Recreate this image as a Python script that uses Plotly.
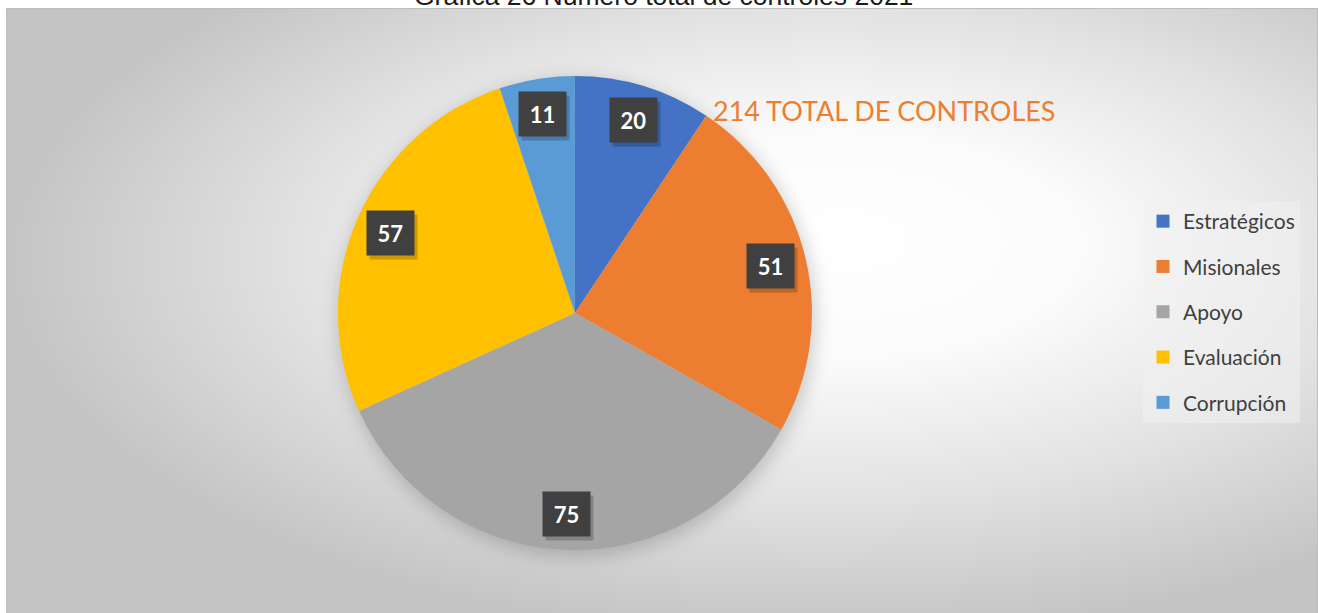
import math
import base64
import plotly.graph_objects as go

# ---- data ----
categories = ["Estratégicos", "Misionales", "Apoyo", "Evaluación", "Corrupción"]
values = [20, 51, 75, 57, 11]
colors = ["#4472C4", "#ED7D31", "#A5A5A5", "#FFC000", "#5B9BD5"]
title_text = "Gráfica 26 Número total de controles 2021"
total_label = "TOTAL DE CONTROLES"

W, H = 1318, 613
ML, MT, MR, MB = 6, 8, 0, 0
PW, PH = W - ML - MR, H - MT - MB

pie_dom_x = [0.253, 0.6143]
pie_dom_y = [0.1025, 0.889]

total = sum(values)
cx = (pie_dom_x[0] + pie_dom_x[1]) / 2
cy = (pie_dom_y[0] + pie_dom_y[1]) / 2
R = min((pie_dom_x[1] - pie_dom_x[0]) * PW, (pie_dom_y[1] - pie_dom_y[0]) * PH) / 2
pcx, pcy = cx * PW, (1 - cy) * PH  # pie centre in plot-area pixels

# background: radial gradient like Excel chart area + soft pie shadow
svg = f'''<svg xmlns="http://www.w3.org/2000/svg" width="{PW}" height="{PH}" viewBox="0 0 {PW} {PH}" preserveAspectRatio="none">
<defs><radialGradient id="g" cx="0.62" cy="0.42" r="0.62" fx="0.64" fy="0.38">
<stop offset="0" stop-color="#ffffff"/>
<stop offset="0.3" stop-color="#fbfbfb"/>
<stop offset="0.65" stop-color="#e2e2e2"/>
<stop offset="1" stop-color="#c4c4c4"/>
</radialGradient>
<filter id="b" x="-20%" y="-20%" width="140%" height="140%"><feGaussianBlur stdDeviation="9"/></filter></defs>
<rect x="0" y="0" width="{PW}" height="{PH}" fill="url(#g)"/>
<circle cx="{pcx + 2:.1f}" cy="{pcy + 5:.1f}" r="{R + 2:.1f}" fill="rgba(0,0,0,0.18)" filter="url(#b)"/>
<rect x="0.5" y="0.5" width="{PW-1}" height="{PH}" fill="none" stroke="#bdbdbd" stroke-width="1"/>
</svg>'''
svg_uri = "data:image/svg+xml;base64," + base64.b64encode(svg.encode()).decode()

fig = go.Figure()
fig.add_trace(go.Pie(
    labels=categories, values=values, sort=False, direction="clockwise", rotation=0,
    marker=dict(colors=colors, line=dict(width=0)),
    textinfo="none", hoverinfo="label+value", showlegend=False,
    domain=dict(x=pie_dom_x, y=pie_dom_y),
))

# legend entries
for c, col in zip(categories, colors):
    fig.add_trace(go.Scatter(
        x=[None], y=[None], mode="markers", name=c, legendgroup=c,
        marker=dict(symbol="square", size=13, color=col),
    ))

# data labels (dark boxes) positioned from slice mid-angles
lab_r = 0.85 * R
annotations = []
cum = 0
for v in values:
    th = 2 * math.pi * (cum + v / 2) / total
    cum += v
    ax = cx + lab_r * math.sin(th) / PW
    ay = cy + lab_r * math.cos(th) / PH
    # shadow box
    annotations.append(dict(
        x=ax, y=ay, xref="paper", yref="paper", text=" ", showarrow=False,
        xanchor="center", yanchor="middle",
        xshift=3, yshift=-4, width=45, height=42, bgcolor="rgba(0,0,0,0.2)",
        font=dict(color="rgba(0,0,0,0)", size=22, family="Lato"),
    ))
    annotations.append(dict(
        x=ax, y=ay, xref="paper", yref="paper", text=f"<b>{v}</b>", showarrow=False,
        xanchor="center", yanchor="middle",
        width=45, height=42, bgcolor="#404040",
        font=dict(color="white", size=22, family="Lato"),
    ))

# total text
annotations.append(dict(
    x=(711 - ML) / PW, y=(H - 111) / PH, xref="paper", yref="paper",
    xanchor="left", yanchor="middle", showarrow=False,
    text=f"{total} {total_label}",
    font=dict(color="#ED7D31", size=27, family="Lato"),
))

# title (partly cut at top)
annotations.append(dict(
    x=(663.5 - ML) / PW, y=1, xref="paper", yref="paper",
    xanchor="center", yanchor="bottom", yshift=-5, showarrow=False,
    text=title_text, font=dict(color="#1a1a1a", size=26.5, family="Liberation Sans"),
))

fig.update_layout(
    width=W, height=H,
    margin=dict(l=ML, r=MR, t=MT, b=MB),
    paper_bgcolor="white", plot_bgcolor="rgba(0,0,0,0)",
    xaxis=dict(visible=False), yaxis=dict(visible=False),
    images=[dict(source=svg_uri, xref="paper", yref="paper", x=0, y=1,
                 sizex=1, sizey=1, sizing="stretch", layer="below",
                 xanchor="left", yanchor="top")],
    annotations=annotations,
    showlegend=True,
    legend=dict(
        x=(1143 - ML) / PW, y=(H - 201) / PH, xanchor="left", yanchor="top",
        bgcolor="rgba(240,240,240,0.55)", borderwidth=0,
        font=dict(family="Lato", size=21, color="#404040"),
        tracegroupgap=15, itemclick=False,
    ),
)

fig.write_html(
    "out.html",
    config={"displayModeBar": False},
    post_script="document.body.style.margin='0';document.body.style.overflow='hidden';",
)
